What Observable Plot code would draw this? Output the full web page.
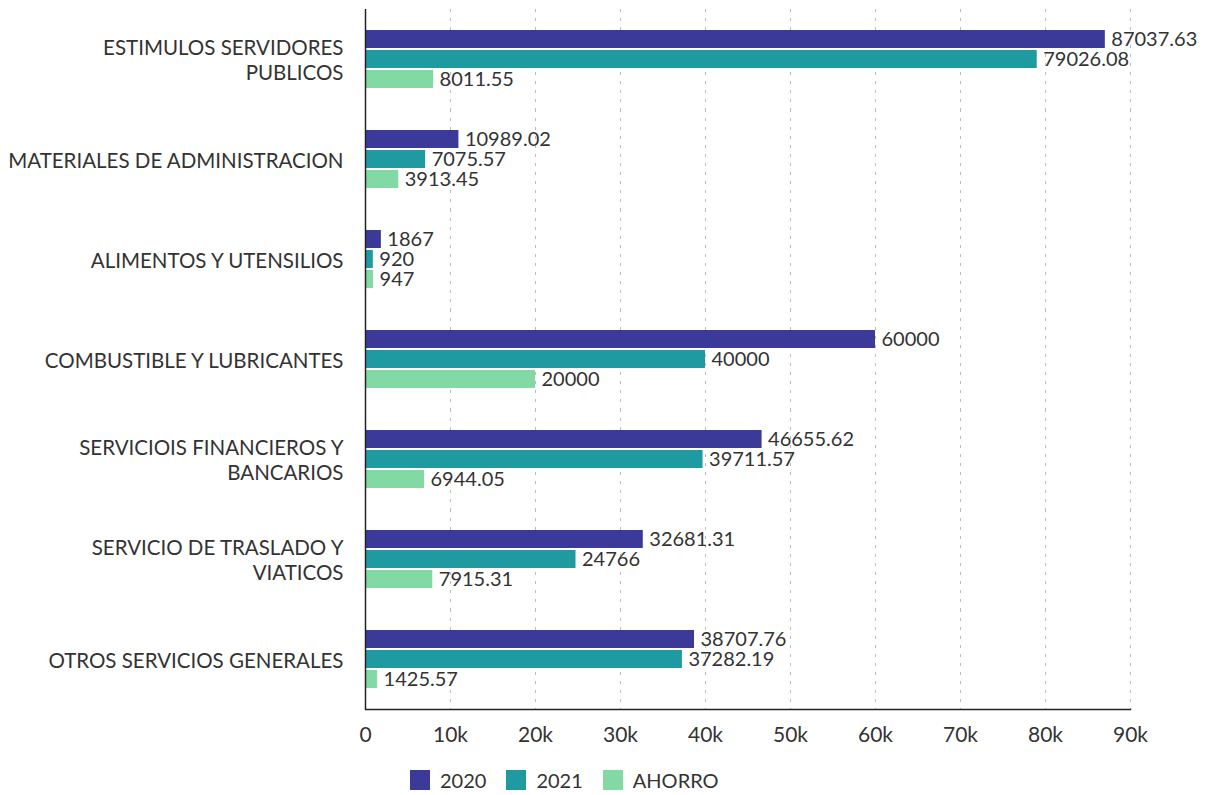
<!DOCTYPE html>
<html>
<head>
<meta charset="utf-8">
<script src="https://cdn.jsdelivr.net/npm/d3@7"></script>
<script src="https://cdn.jsdelivr.net/npm/@observablehq/plot@0.6"></script>
<style>
  html, body { margin: 0; padding: 0; background: #fff; font-family: Lato, "Open Sans", sans-serif; }
  #legend { display: flex; align-items: center; margin-left: 410px; margin-top: 16px; font-size: 20px; color: #333; }
  #legend .sw { width: 20px; height: 20px; display: inline-block; }
  #legend .item { display: flex; align-items: center; gap: 10px; margin-right: 20px; }
</style>
</head>
<body>
<div id="chart"></div>
<div id="legend"></div>
<script>
const categories = [
  "ESTIMULOS SERVIDORES PUBLICOS",
  "MATERIALES DE ADMINISTRACION",
  "ALIMENTOS Y UTENSILIOS",
  "COMBUSTIBLE Y LUBRICANTES",
  "SERVICIOIS FINANCIEROS Y BANCARIOS",
  "SERVICIO DE TRASLADO Y VIATICOS",
  "OTROS SERVICIOS GENERALES"
];
const categoryLabels = [
  "ESTIMULOS SERVIDORES\nPUBLICOS",
  "MATERIALES DE ADMINISTRACION",
  "ALIMENTOS Y UTENSILIOS",
  "COMBUSTIBLE Y LUBRICANTES",
  "SERVICIOIS FINANCIEROS Y\nBANCARIOS",
  "SERVICIO DE TRASLADO Y\nVIATICOS",
  "OTROS SERVICIOS GENERALES"
];
const seriesNames = ["2020", "2021", "AHORRO"];
const values2020 = [87037.63, 10989.02, 1867, 60000, 46655.62, 32681.31, 38707.76];
const values2021 = [79026.08, 7075.57, 920, 40000, 39711.57, 24766, 37282.19];
const valuesAhorro = [8011.55, 3913.45, 947, 20000, 6944.05, 7915.31, 1425.57];
const xTicks = [0, 10000, 20000, 30000, 40000, 50000, 60000, 70000, 80000, 90000];
const colors = ["#3b3a98", "#1f9aa0", "#82d9a4"];

const seriesValues = [values2020, values2021, valuesAhorro];
const data = [];
categories.forEach((c, i) => {
  seriesNames.forEach((s, j) => {
    data.push({category: c, series: s, value: seriesValues[j][i]});
  });
});
const labelOf = new Map(categories.map((c, i) => [c, categoryLabels[i]]));

const chart = Plot.plot({
  width: 1221,
  height: 752,
  marginLeft: 365,
  marginRight: 91,
  marginTop: 8,
  marginBottom: 42,
  style: {fontFamily: "Lato, 'Open Sans', sans-serif", color: "#333", background: "#fff"},
  x: {domain: [0, 90000], ticks: xTicks, label: null},
  y: {domain: seriesNames, paddingInner: 0.08, paddingOuter: 1.0, axis: null},
  fy: {domain: categories, padding: 0, label: null},
  color: {domain: seriesNames, range: colors},
  marks: [
    Plot.gridX(xTicks.slice(1), {stroke: "#bbb", strokeOpacity: 1, strokeDasharray: "3,6"}),
    Plot.axisX(xTicks, {
      tickSize: 0, tickPadding: 18, fontSize: 21, fill: "#333", label: null,
      tickFormat: d => d === 0 ? "0" : (d / 1000) + "k"
    }),
    Plot.axisFy({
      anchor: "left",
      label: null, tickSize: 0, tickPadding: 22, fontSize: 20.5, fill: "#333",
      tickFormat: d => labelOf.get(d), lineHeight: 1.22
    }),
    Plot.barX(data, {x: "value", y: "series", fy: "category", fill: "series"}),
    Plot.text(data, {
      x: "value", y: "series", fy: "category", text: d => String(d.value),
      textAnchor: "start", dx: 6, fontSize: 20, fill: "#333"
    }),
    Plot.ruleX([0], {stroke: "#222", strokeWidth: 1.5}),
    Plot.frame({anchor: "bottom", facetAnchor: "bottom", stroke: "#222", strokeWidth: 1.5})
  ]
});
document.getElementById("chart").appendChild(chart);

const legend = document.getElementById("legend");
seriesNames.forEach((s, i) => {
  const item = document.createElement("div");
  item.className = "item";
  const sw = document.createElement("span");
  sw.className = "sw";
  sw.style.background = colors[i];
  const t = document.createElement("span");
  t.textContent = s;
  item.appendChild(sw);
  item.appendChild(t);
  legend.appendChild(item);
});
</script>
</body>
</html>
